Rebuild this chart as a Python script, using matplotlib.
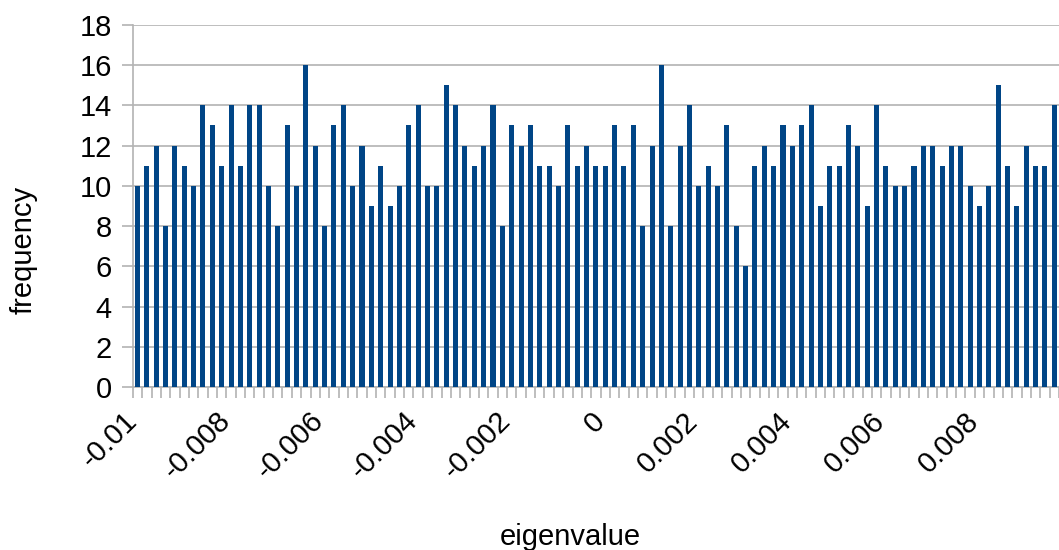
import numpy as np
import matplotlib
matplotlib.use('Agg')
import matplotlib.pyplot as plt
import matplotlib.transforms as mtransforms

plt.rcParams['font.family'] = ['Liberation Sans', 'DejaVu Sans']

# eigenvalue bins from -0.01 in steps of 0.0002
eigenvalues = [round(-0.01 + 0.0002 * i, 4) for i in range(99)]
frequency = [10, 11, 12, 8, 12, 11, 10, 14, 13, 11,
             14, 11, 14, 14, 10, 8, 13, 10, 16, 12,
             8, 13, 14, 10, 12, 9, 11, 9, 10, 13,
             14, 10, 10, 15, 14, 12, 11, 12, 14, 8,
             13, 12, 13, 11, 11, 10, 13, 11, 12, 11,
             11, 13, 11, 13, 8, 12, 16, 8, 12, 14,
             10, 11, 10, 13, 8, 6, 11, 12, 11, 13,
             12, 13, 14, 9, 11, 11, 13, 12, 9, 14,
             11, 10, 10, 11, 12, 12, 11, 12, 12, 10,
             9, 10, 15, 11, 9, 12, 11, 11, 14]
tick_labels = ['-0.01', '-0.008', '-0.006', '-0.004', '-0.002',
               '0', '0.002', '0.004', '0.006', '0.008']
yticks = [0, 2, 4, 6, 8, 10, 12, 14, 16, 18]

grey = '#b3b3b3'
fs = 21

fig = plt.figure(figsize=(10.59, 5.5), dpi=100)
ax = fig.add_axes([0.1254, 0.2958, 0.8746, 0.6593])

x = np.arange(len(eigenvalues))
ax.bar(x, frequency, width=0.54, color='#004586', zorder=3)

ax.set_xlim(-0.5, len(eigenvalues) - 0.5)
ax.set_ylim(0, 18)
ax.set_yticks(yticks)
ax.set_yticklabels([str(v) for v in yticks], fontsize=fs)
ax.yaxis.grid(True, color=grey, linewidth=1.2, zorder=0)

ax.set_xticks(x[::10])
ax.set_xticklabels(tick_labels, fontsize=fs, rotation=45, ha='right',
                   va='top', rotation_mode='anchor')
ax.set_xticks(np.arange(-0.5, len(eigenvalues)), minor=True)
ax.tick_params(axis='x', which='major', length=0, pad=14)
ax.tick_params(axis='x', which='minor', length=8, color=grey, width=1.2)
ax.tick_params(axis='y', length=8, color=grey, width=1.2, pad=7)

# nudge the slanted labels left so their ends sit on the bins
shift = mtransforms.ScaledTranslation(-15 / 100, 0, fig.dpi_scale_trans)
for lbl in ax.get_xticklabels():
    lbl.set_transform(lbl.get_transform() + shift)

for s in ['top', 'right']:
    ax.spines[s].set_visible(False)
for s in ['left', 'bottom']:
    ax.spines[s].set_color(grey)
    ax.spines[s].set_linewidth(1.2)

fig.text(570 / 1059, 1 - 537 / 550, 'eigenvalue', fontsize=fs,
         ha='center', va='center')
fig.text(24 / 1059, 1 - 250 / 550, 'frequency', fontsize=fs,
         ha='center', va='center', rotation=90)

fig.savefig('out.png', dpi=100)
